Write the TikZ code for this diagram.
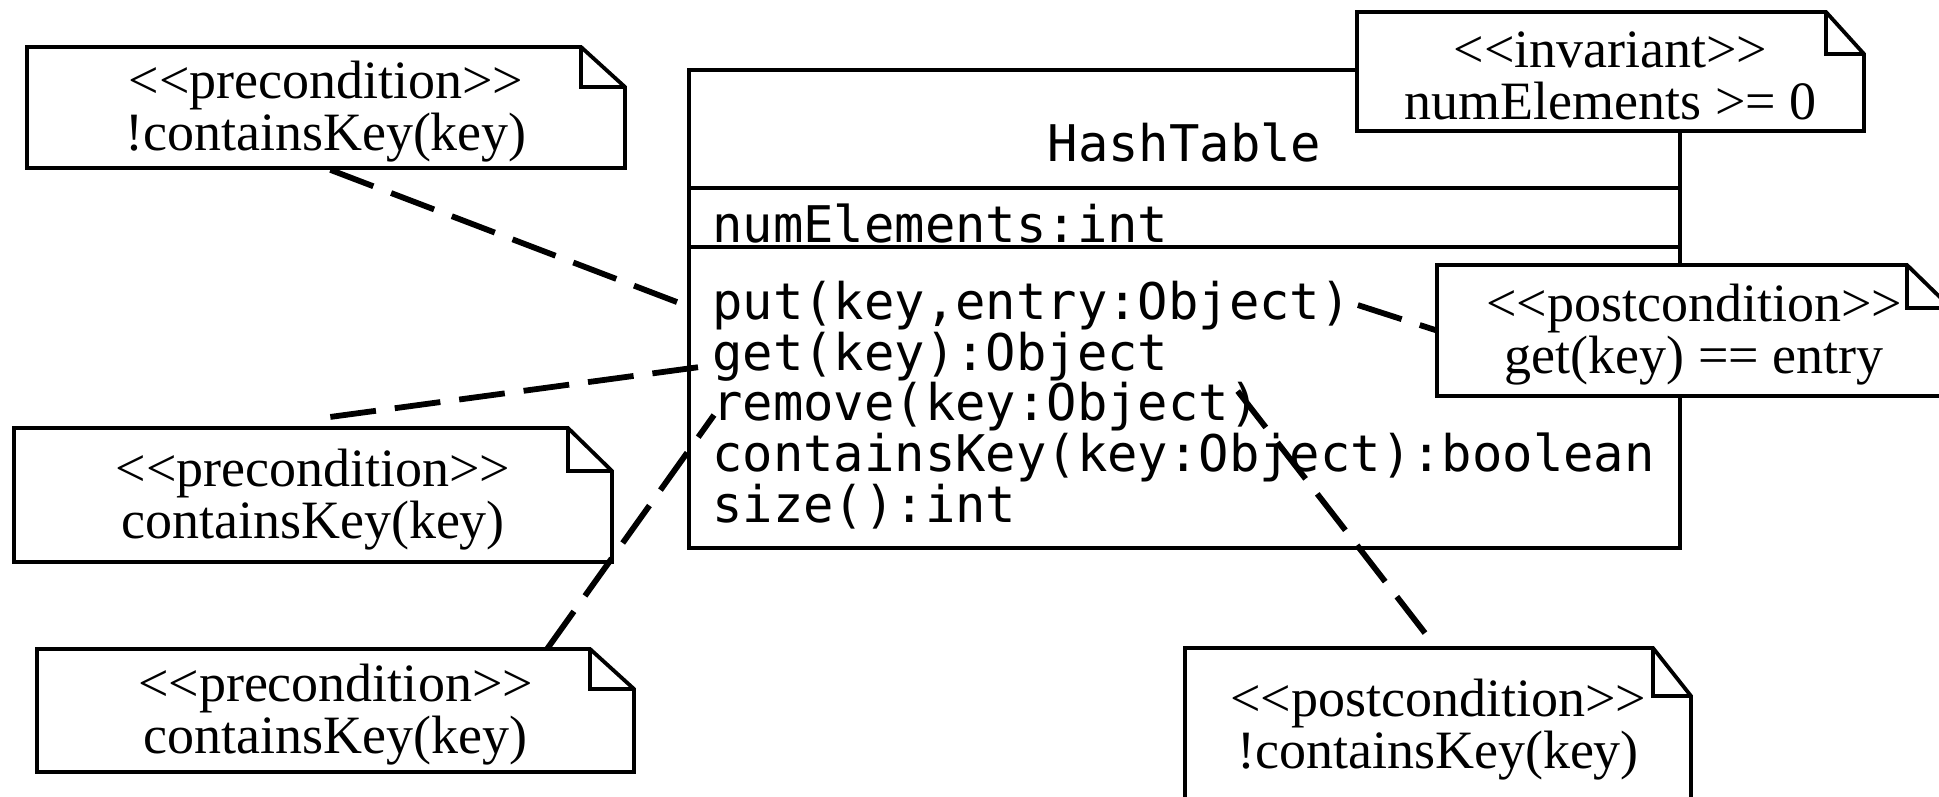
\documentclass[tikz,border=0pt]{standalone}
\usepackage{fontspec}
\newfontfamily\notefont{Liberation Serif}
\newfontfamily\codefont{DejaVu Sans Mono}
% stereotype brackets (the kern stops the << >> ligature mapping)
\newcommand\stopen{<\kern0pt<}
\newcommand\stclose{>\kern0pt>}

\tikzset{
  notepath/.style={line width=3.8pt, fill=white, line join=miter},
  notetext/.style={font={\notefont\fontsize{54pt}{52pt}\selectfont}, align=center, inner sep=0pt},
  classline/.style={line width=3.6pt},
  code/.style={font={\codefont\fontsize{50.5pt}{50.7pt}\selectfont}, inner sep=0pt},
  anchorline/.style={line width=5.8pt, dash pattern=on 46pt off 19pt},
}

% UML note with folded corner: name, x1, y1, x2, y2, fold width, fold height, text
\newcommand\umlnote[8]{%
  \filldraw[notepath] (#2,#3) -- ({#4-#6},#3) -- (#4,{#3+#7}) -- (#4,#5) -- (#2,#5) -- cycle;
  \draw[notepath, fill=none] ({#4-#6},#3) |- (#4,{#3+#7});
  \node[notetext, minimum width={(#4-#2)*1pt}, minimum height={(#5-#3)*1pt}] (#1)
    at ({(#2+#4)/2},{(#3+#5)/2}) {};
  \node[notetext] at ([yshift=-4.5pt]#1.center) {#8};
}

\begin{document}
\begin{tikzpicture}[x=1pt, y=-1pt]
\useasboundingbox (0,0) rectangle (1939,797);
\clip (0,0) rectangle (1939,797);

% class box with its three compartments
\node[draw, classline, minimum width=991pt, minimum height=478pt, inner sep=0pt] (cls) at (1184.5,309) {};
\draw[classline] (689,188) -- (1680,188);
\draw[classline] (689,247) -- (1680,247);

\node[code, anchor=base] (cname) at (1184.5,162) {HashTable};
\node[code, anchor=base west] (attr) at (712,242) {numElements:int};
\node[code, anchor=base west] (op1) at (712,319) {put(key,entry:Object)};
\node[code, anchor=base west] (op2) at (712,370) {get(key):Object};
\node[code, anchor=base west] (op3) at (712,420) {remove(key:Object)};
\node[code, anchor=base west] (op4) at (712,471) {containsKey(key:Object):boolean};
\node[code, anchor=base west] (op5) at (712,522) {size():int};

% constraint notes
\umlnote{pre1}{27}{47}{625}{168}{44}{40}{\stopen precondition\stclose\\!containsKey(key)}
\umlnote{inv}{1357}{12}{1864}{131}{38}{42}{\stopen invariant\stclose\\numElements >= 0}
\umlnote{post1}{1437}{265}{1951}{396}{44}{43}{\stopen postcondition\stclose\\get(key) == entry}
\umlnote{pre2}{14}{428}{612}{562}{44}{43}{\stopen precondition\stclose\\containsKey(key)}
\umlnote{pre3}{37}{649}{634}{772}{44}{40}{\stopen precondition\stclose\\containsKey(key)}
\umlnote{post2}{1185}{648}{1691}{802}{38}{48}{\stopen postcondition\stclose\\!containsKey(key)}

% anchor lines from the operations to their notes
\coordinate (p1) at ([xshift=-35pt, yshift=3pt]op1.west);
\coordinate (p2) at ([xshift=7pt]op1.east);
\coordinate (p3) at ([xshift=-14pt, yshift=-11pt]op2.west);
\coordinate (q3) at ([xshift=11pt, yshift=10pt]pre2.north);
\coordinate (p4) at ([xshift=2pt, yshift=-9pt]op3.west);
\coordinate (q4) at ([xshift=-87pt]pre3.north east);
\coordinate (p5) at ([xshift=-22pt, yshift=15pt]op3.east);
\coordinate (q5) at ([xshift=-7pt, yshift=7pt]post2.north);

\draw[anchorline] (p1) -- (pre1.south);
\draw[anchorline] (p2) -- (post1.west);
\draw[anchorline] (p3) -- (q3);
\draw[anchorline] (q4) -- (p4);
\draw[anchorline] (p5) -- (q5);
\end{tikzpicture}
\end{document}
